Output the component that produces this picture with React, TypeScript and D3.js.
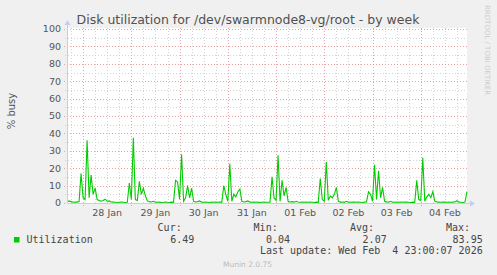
import React from "react";
import * as d3 from "d3";

// ---- data (hourly, from 27 Jan 16:00 to 04 Feb 23:00) ----
const startTime = Date.UTC(2026, 0, 27, 16, 0, 0);
const endTime = Date.UTC(2026, 1, 4, 23, 0, 0);

const utilization: number[] = [
  // i=0..6
  0.5, 1.2, 0.8, 0.4, 0.6, 0.5, 0.8,
  // day burst 1 (i=7..23)
  17, 3, 2, 36, 3, 16, 5, 8.5, 2, 1.5, 1, 1.5, 2.2, 1, 1.2, 0.6, 0.5,
  // i=24..30
  0.4, 0.3, 0.4, 0.5, 0.4, 0.3, 0.4,
  // burst 2 (i=31..44)
  11.5, 2, 37.5, 2, 1.5, 12.5, 5, 8.5, 4, 1.2, 0.8, 0.6, 1, 0.5,
  // i=45..53
  0.4, 0.5, 0.3, 0.4, 0.6, 0.4, 0.3, 0.5, 0.4,
  // burst 3 (i=54..67)
  13, 12, 2, 28, 1, 3, 10, 3, 8.5, 1, 0.6, 0.8, 1.2, 0.5,
  // i=68..77
  0.4, 0.5, 0.4, 0.3, 0.5, 0.4, 0.6, 0.4, 0.5, 0.4,
  // burst 4 (i=78..90)
  10, 5, 1, 22.5, 1, 5, 3.5, 6.5, 8, 1, 0.6, 0.8, 1.2,
  // i=91..101
  0.5, 0.4, 0.6, 0.4, 0.5, 0.3, 0.4, 0.5, 0.4, 0.4, 0.5,
  // burst 5 (i=102..110)
  15, 3, 1.5, 27.5, 1, 13, 4, 9, 1,
  // i=111..125
  0.6, 0.8, 0.5, 1, 0.6, 0.4, 0.5, 0.4, 0.6, 0.4, 0.5, 0.4, 0.3, 0.5, 0.4,
  // burst 6 (i=126..135)
  14, 2, 1, 23.5, 1.5, 4, 3, 5, 9, 1,
  // i=136..149
  0.5, 0.6, 0.4, 1, 0.5, 0.4, 0.6, 0.5, 0.4, 0.5, 0.4, 0.3, 0.5, 0.6,
  // burst 7 (i=150..158)
  6.5, 5, 1, 22, 2, 18.5, 3, 9, 1,
  // i=159..173
  0.6, 0.5, 1, 0.5, 0.4, 0.6, 0.4, 0.5, 0.4, 0.5, 0.6, 0.4, 0.3, 0.5, 0.4,
  // burst 8 (i=174..183)
  13, 2, 1.5, 26, 1, 3.5, 5, 3, 6.5, 1,
  // i=184..199
  0.6, 0.5, 0.4, 0.6, 0.5, 0.4, 0.5, 0.4, 0.5, 0.6, 1.3, 0.5, 0.4, 0.3, 0.5, 6.49,
];

const yTicks = [0, 10, 20, 30, 40, 50, 60, 70, 80, 90, 100];
const yMinor = [5, 15, 25, 35, 45, 55, 65, 75, 85, 95];
const dayLabels = ["28 Jan", "29 Jan", "30 Jan", "31 Jan", "01 Feb", "02 Feb", "03 Feb", "04 Feb"];

const legendName = "Utilization";
const legendHeaders = ["Cur:", "Min:", "Avg:", "Max:"];
const legendValues = ["6.49", "0.04", "2.07", "83.95"];
const titleText = "Disk utilization for /dev/swarmnode8-vg/root - by week";
const yLabel = "% busy";
const lastUpdate = "Last update: Wed Feb  4 23:00:07 2026";
const footer = "Munin 2.0.75";
const watermark = "RRDTOOL / TOBI OETIKER";

const W = 497;
const H = 275;
const plotLeft = 67;
const plotRight = 467;
const plotTop = 29;
const plotBottom = 203;

const sans = "'DejaVu Sans', sans-serif";
const mono = "'DejaVu Sans Mono', monospace";

export default function App() {
  const x = d3.scaleUtc().domain([startTime, endTime]).range([plotLeft, plotRight]);
  const y = d3.scaleLinear().domain([0, 100]).range([plotBottom, plotTop]);

  const points = utilization.map((v, i) => ({ t: startTime + i * 3600e3, v }));
  const line = d3
    .line<{ t: number; v: number }>()
    .x((d) => x(d.t))
    .y((d) => y(d.v));

  const sixHours = d3.utcHour.every(6)!.range(new Date(startTime), new Date(endTime + 1));
  const minorV = sixHours.filter((d) => d.getUTCHours() !== 0);
  const majorV = d3.utcDay.range(new Date(startTime), new Date(endTime + 1));

  const majorColor = "#e9a3a3";
  const minorColor = "#d4d4d4";
  const axisColor = "#c6ccf2";

  const legendHeaderX = [181.7, 277.7, 374, 470];
  const legendValueX = [194.3, 290, 386.7, 482.7];

  return (
    <div style={{ position: "fixed", left: 0, top: 0 }}>
      <svg width={W} height={H} xmlns="http://www.w3.org/2000/svg" style={{ display: "block" }}>
        <rect x={0} y={0} width={W} height={H} fill="#f0f0f0" />
        <rect x={plotLeft} y={plotTop - 1} width={plotRight - plotLeft} height={plotBottom - plotTop + 1} fill="#ffffff" />

        {/* minor horizontal grid */}
        {yMinor.map((v) => (
          <line key={"hm" + v} x1={plotLeft - 2} x2={plotRight} y1={Math.round(y(v)) + 0.5} y2={Math.round(y(v)) + 0.5}
            stroke={minorColor} strokeWidth={1} strokeDasharray="1,2" />
        ))}
        {/* minor vertical grid */}
        {minorV.map((d) => (
          <line key={"vm" + d.getTime()} x1={Math.round(x(d)) + 0.5} x2={Math.round(x(d)) + 0.5} y1={plotTop - 1} y2={plotBottom + 2}
            stroke={minorColor} strokeWidth={1} strokeDasharray="1,2" />
        ))}
        {/* major horizontal grid */}
        {yTicks.map((v) => (
          <line key={"hM" + v} x1={plotLeft - 3} x2={plotRight} y1={Math.round(y(v)) + 0.5} y2={Math.round(y(v)) + 0.5}
            stroke={majorColor} strokeWidth={1} strokeDasharray="1,2" />
        ))}
        {/* major vertical grid */}
        {majorV.map((d) => (
          <line key={"vM" + d.getTime()} x1={Math.round(x(d)) + 0.5} x2={Math.round(x(d)) + 0.5} y1={plotTop - 1} y2={plotBottom + 3}
            stroke={majorColor} strokeWidth={1} strokeDasharray="1,2" />
        ))}

        {/* y tick labels */}
        {yTicks.map((v) => (
          <text key={"yl" + v} x={61} y={y(v) + 3.3} textAnchor="end" fontFamily={sans} fontSize={9.5} fill="#555">
            {v}
          </text>
        ))}

        {/* x labels at noon */}
        {majorV.map((d, i) => (
          <text key={"xl" + i} x={x(d.getTime() + 12 * 3600e3)} y={216} textAnchor="middle" fontFamily={sans} fontSize={9.5} fill="#555">
            {dayLabels[i]}
          </text>
        ))}

        {/* data line */}
        <path d={line(points) || ""} fill="none" stroke="#00cc00" strokeWidth={1.1} />

        {/* axes */}
        <line x1={plotLeft + 0.5} x2={plotLeft + 0.5} y1={plotBottom} y2={plotTop - 5} stroke={axisColor} strokeWidth={1} />
        <line x1={plotLeft} x2={plotRight + 5} y1={plotBottom + 0.5} y2={plotBottom + 0.5} stroke={axisColor} strokeWidth={1} />
        <path d={`M${plotLeft - 2.5},${plotTop - 4} L${plotLeft + 3.5},${plotTop - 4} L${plotLeft + 0.5},${plotTop - 9} Z`} fill={axisColor} />
        <path d={`M${plotRight + 3},${plotBottom - 2.5} L${plotRight + 3},${plotBottom + 3.5} L${plotRight + 8},${plotBottom + 0.5} Z`} fill={axisColor} />

        {/* title */}
        <text x={248} y={24} textAnchor="middle" fontFamily={sans} fontSize={12.5} fill="#505050">
          {titleText}
        </text>

        {/* y label */}
        <text transform="translate(14.5,111) rotate(-90)" textAnchor="middle" fontFamily={sans} fontSize={10} fill="#555">
          {yLabel}
        </text>

        {/* watermark */}
        <text transform="translate(485,5) rotate(90)" textAnchor="start" fontFamily={sans} fontSize={7} fill="#cccccc">
          {watermark}
        </text>

        {/* legend */}
        {legendHeaders.map((h, i) => (
          <text key={"lh" + i} x={legendHeaderX[i]} y={231} textAnchor="end" fontFamily={mono} fontSize={10} fill="#444">
            {h}
          </text>
        ))}
        <rect x={14} y={237} width={5.5} height={5.5} fill="#00cc00" />
        <text x={26.5} y={242.7} fontFamily={mono} fontSize={10} fill="#444">
          {legendName}
        </text>
        {legendValues.map((v, i) => (
          <text key={"lv" + i} x={legendValueX[i]} y={242.7} textAnchor="end" fontFamily={mono} fontSize={10} fill="#444">
            {v}
          </text>
        ))}
        <text x={482.7} y={254.3} textAnchor="end" fontFamily={mono} fontSize={10} fill="#444" style={{ whiteSpace: "pre" }}>
          {lastUpdate}
        </text>
        <text x={247.5} y={266.5} textAnchor="middle" fontFamily={sans} fontSize={7.5} fill="#bbb">
          {footer}
        </text>
      </svg>
    </div>
  );
}
